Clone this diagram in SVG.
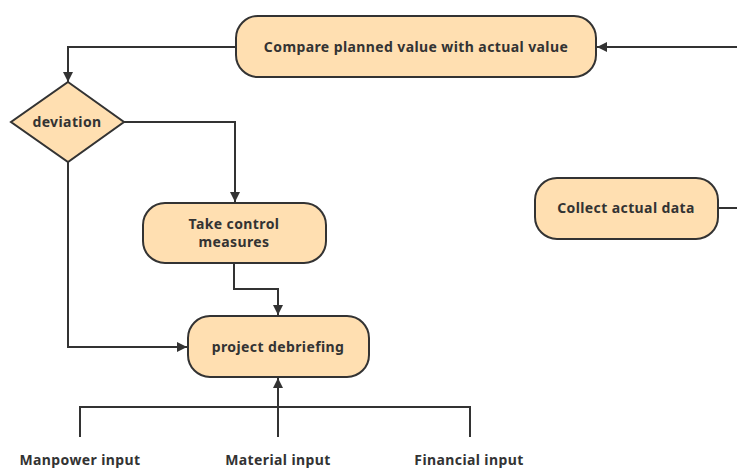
<svg xmlns="http://www.w3.org/2000/svg" width="737" height="468" viewBox="0 0 737 468">
<style>
.n{fill:#FFDFB1;stroke:#333;stroke-width:2}
.t{font-family:"Noto Sans","Open Sans",sans-serif;font-weight:bold;font-size:14px;letter-spacing:0.4px;fill:#333;text-anchor:middle}
.c{fill:none;stroke:#333;stroke-width:2}
</style>
<defs>
<marker id="a" viewBox="0 0 10 10" refX="10" refY="5" markerWidth="10" markerHeight="10" markerUnits="userSpaceOnUse" orient="auto">
<path d="M0,0 L10,5 L0,10 Z" fill="#333"/>
</marker>
</defs>
<rect width="737" height="468" fill="#fff"/>
<g id="connectors">
<path class="c" d="M737,47 L597,47" marker-end="url(#a)"/>
<path class="c" d="M236,47 L68,47 L68,82" marker-end="url(#a)"/>
<path class="c" d="M124,122 L235,122 L235,202" marker-end="url(#a)"/>
<path class="c" d="M234,263 L234,289 L278,289 L278,315" marker-end="url(#a)"/>
<path class="c" d="M68,162 L68,347 L187,347" marker-end="url(#a)"/>
<path class="c" d="M80,437 L80,407 L470,407 L470,437"/>
<path class="c" d="M278,437 L278,378" marker-end="url(#a)"/>
<path class="c" d="M718,208 L737,208"/>
</g>
<g id="compare">
<rect class="n" x="236" y="16" width="360" height="61" rx="22" ry="22"/>
<text class="t" x="416" y="52">Compare planned value with actual value</text>
</g>
<g id="deviation">
<polygon class="n" points="68,82 124,122 68,162 11,122"/>
<text class="t" x="67" y="127">deviation</text>
</g>
<g id="take-control">
<rect class="n" x="143" y="203" width="183" height="60" rx="22" ry="22"/>
<text class="t" x="234" y="229">Take control</text>
<text class="t" x="234" y="247">measures</text>
</g>
<g id="project-debriefing">
<rect class="n" x="188" y="316" width="181" height="61" rx="22" ry="22"/>
<text class="t" x="278" y="352">project debriefing</text>
</g>
<g id="collect">
<rect class="n" x="535" y="178" width="183" height="61" rx="22" ry="22"/>
<text class="t" x="626" y="213">Collect actual data</text>
</g>
<g id="labels">
<text class="t" x="80" y="465">Manpower input</text>
<text class="t" x="278" y="465">Material input</text>
<text class="t" x="469" y="465">Financial input</text>
</g>
</svg>
